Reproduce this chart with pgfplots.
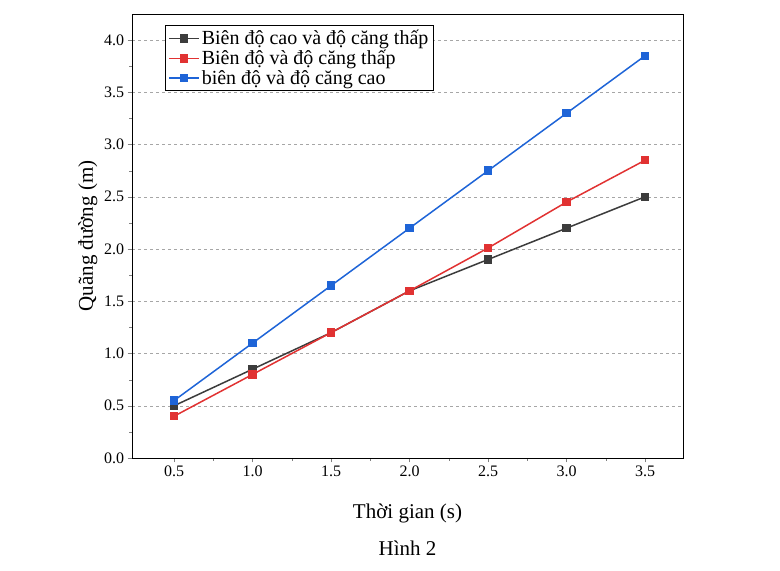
\documentclass[border=0pt]{standalone}
\usepackage{pgfplots}
\pgfplotsset{compat=1.18}
\usepackage{fontspec}
\setmainfont{Liberation Serif}
\definecolor{cA}{RGB}{60,60,60}
\definecolor{cB}{RGB}{225,50,50}
\definecolor{cC}{RGB}{30,100,215}
\begin{document}
\begin{tikzpicture}[x=1pt,y=1pt]
\begin{axis}[scale only axis, width=551pt, height=444pt,
 xmin=0.232, xmax=3.742, ymin=0, ymax=4.25,
 xtick={0.5,1,...,3.5}, ytick={0,0.5,...,4},
 minor x tick num=1, minor y tick num=1,
 tick align=outside, tick pos=left,
 xticklabel style={/pgf/number format/.cd,fixed,fixed zerofill,precision=1},
 yticklabel style={/pgf/number format/.cd,fixed,fixed zerofill,precision=1},
 /pgf/number format/assume math mode=true,
 ticklabel style={font=\fontsize{16}{18}\selectfont},
 label style={font=\fontsize{21}{24}\selectfont},
 ymajorgrids, grid style={dashed,gray!70},
 xlabel={Thời gian (s)}, ylabel={Quãng đường (m)},
 xlabel style={yshift=-20pt},
 legend style={at={(0.06,0.975)},anchor=north west,font=\fontsize{20}{24}\selectfont, draw=black, cells={anchor=west}, inner sep=3pt},
 legend image post style={line width=1.5pt},
 legend image code/.code={\draw[#1] (0pt,0pt) -- (30pt,0pt); \draw[#1,mark repeat=2,mark phase=2] plot coordinates {(0pt,0pt)(15pt,0pt)(30pt,0pt)};},
 every axis plot/.append style={line width=1.5pt, mark=square*, mark size=3.5pt},
 clip=false]
\addplot[color=cA, mark options={fill=cA}] coordinates {(0.5,0.5)(1,0.85)(1.5,1.2)(2,1.6)(2.5,1.9)(3,2.2)(3.5,2.5)};
\addplot[color=cB, mark options={fill=cB}] coordinates {(0.5,0.4)(1,0.8)(1.5,1.2)(2,1.6)(2.5,2.01)(3,2.45)(3.5,2.85)};
\addplot[color=cC, mark options={fill=cC}] coordinates {(0.5,0.55)(1,1.1)(1.5,1.65)(2,2.2)(2.5,2.75)(3,3.3)(3.5,3.85)};
\legend{Biên độ cao và độ căng thấp, Biên độ và độ căng thấp, biên độ và độ căng cao}
\node[font=\fontsize{21}{24}\selectfont, anchor=north] at (rel axis cs:0.5,-0.178) {Hình 2};
\path[use as bounding box] (rel axis cs:-0.2396,-0.2545) rectangle (rel axis cs:1.176,1.0315);
\end{axis}
\end{tikzpicture}
\end{document}
